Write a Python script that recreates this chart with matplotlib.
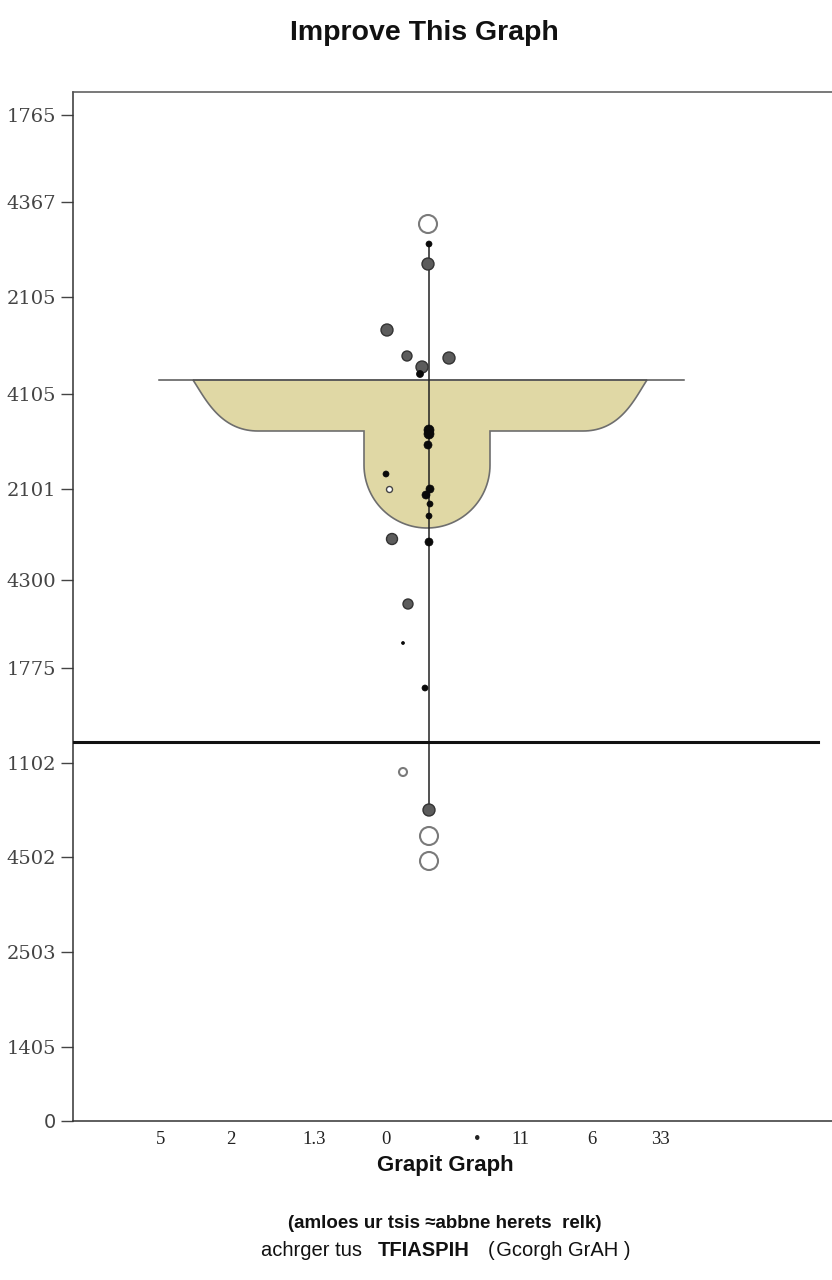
import numpy as np
import matplotlib
matplotlib.use("Agg")
import matplotlib.pyplot as plt
from matplotlib.patches import Polygon

# ---------------- data ----------------
title = "Improve This Graph"
xlabel = "Grapit Graph"
note_line1 = "(amloes ur tsis ≈abbne herets  relk)"
note_line2_a = "achrger tus"
note_line2_b = "TFIASPIH"
note_line2_c = "(\u200aGcorgh GrAH )"

ytick_pos = [1006, 919, 824, 727, 632, 541, 453, 358, 264, 169, 74, 0]
ytick_labels = ["1765", "4367", "2105", "4105", "2101", "4300", "1775",
                "1102", "4502", "2503", "1405", "0"]
xtick_pos = [88, 158, 241, 313, 404, 447, 519, 587]
xtick_labels = ["5", "2", "1.3", "0", "•", "11", "6", "33"]

# hollow circles
hollow_x = [355, 356, 356, 330]
hollow_y = [897, 285, 260, 349]
hollow_r = [9, 9, 9, 4]
# small white dot
white_x = [316]
white_y = [632]
# grey dots
gray_x = [355, 314, 334, 376, 349, 319, 335, 356]
gray_y = [857, 791, 765, 763, 754, 582, 517, 311]
gray_r = [6, 6, 5, 6, 6, 5.5, 5, 6]
# black dots
black_x = [356, 347, 356, 356, 355, 313, 357, 353, 357, 356, 356, 330, 352]
black_y = [877, 747, 691, 687, 676, 647, 632, 626, 617, 605, 579, 478, 433]
black_r = [3, 3.5, 5, 5, 4, 3, 4, 4, 3, 3, 4, 1.5, 3]

# reference lines
whisker_x = 356
whisker_y = (311, 878)
cap_y = 741
cap_x = (86, 611)
base_y = 379
base_x = (0, 745)

# shape outline (tan bowl)
bowl_top_y, bowl_left, bowl_right = 741, 120, 574
bowl_mid_y, bowl_shoulder_l, bowl_shoulder_r = 690, 185, 510
stem_left, stem_right, stem_round_y = 291, 417, 656

# ---------------- figure ----------------
W, H = 832, 1280
fig = plt.figure(figsize=(W / 100, H / 100), dpi=100)
ax = fig.add_axes([73 / W, 1 - 1121 / H, 1 - 73 / W, (1121 - 92) / H])
ax.set_xlim(0, 759)
ax.set_ylim(0, 1029)


def bez(p0, p1, p2, p3, n=40):
    t = np.linspace(0, 1, n)[:, None]
    p0, p1, p2, p3 = map(np.array, (p0, p1, p2, p3))
    return ((1 - t) ** 3) * p0 + 3 * ((1 - t) ** 2) * t * p1 + 3 * (1 - t) * t ** 2 * p2 + t ** 3 * p3


pts = [np.array([[bowl_left, bowl_top_y], [bowl_right, bowl_top_y]])]
pts.append(bez((bowl_right, bowl_top_y), (bowl_right - 12, bowl_top_y - 18),
               (bowl_shoulder_r + 38, bowl_mid_y), (bowl_shoulder_r, bowl_mid_y)))
pts.append(np.array([[stem_right, bowl_mid_y], [stem_right, stem_round_y]]))
rad = (stem_right - stem_left) / 2
cx = (stem_right + stem_left) / 2
t = np.linspace(0, -np.pi, 60)
pts.append(np.column_stack([cx + rad * np.cos(t), stem_round_y + rad * np.sin(t)]))
pts.append(np.array([[stem_left, bowl_mid_y], [bowl_shoulder_l, bowl_mid_y]]))
pts.append(bez((bowl_shoulder_l, bowl_mid_y), (bowl_shoulder_l - 38, bowl_mid_y),
               (bowl_left + 12, bowl_top_y - 18), (bowl_left, bowl_top_y)))
poly = Polygon(np.vstack(pts), closed=True, facecolor="#e0d8a5",
               edgecolor="#6e6e6e", linewidth=1.2, zorder=2)
ax.add_patch(poly)

ax.plot(cap_x, [cap_y, cap_y], color="#555555", lw=1.1, zorder=3)
ax.plot([whisker_x, whisker_x], whisker_y, color="#222222", lw=1.1, zorder=3)
ax.plot(base_x, [base_y, base_y], color="#111111", lw=2.2, zorder=3)


def sz(r):
    return (2 * np.array(r, dtype=float) * 0.72) ** 2


ax.scatter(gray_x, gray_y, s=sz(gray_r), color="#5c5c5c", edgecolor="#333333",
           linewidth=1.0, zorder=5)
ax.scatter(black_x, black_y, s=sz(black_r), color="#0a0a0a", edgecolor="#0a0a0a",
           linewidth=0.5, zorder=6)
ax.scatter(hollow_x, hollow_y, s=sz(hollow_r), facecolor="white", edgecolor="#7a7a7a",
           linewidth=1.5, zorder=5)
ax.scatter(white_x, white_y, s=sz([3]), facecolor="white", edgecolor="#444444",
           linewidth=1.0, zorder=6)

# spines and ticks
ax.spines["right"].set_visible(False)
ax.spines["top"].set_color("#555555")
ax.spines["bottom"].set_color("#333333")
ax.spines["left"].set_color("#333333")
for s in ("top", "bottom", "left"):
    ax.spines[s].set_linewidth(1.1)

ax.set_yticks(ytick_pos)
ax.set_yticklabels(ytick_labels, family="DejaVu Serif", fontsize=14, color="#444444")
ax.tick_params(axis="y", length=9, width=1, color="#444444", pad=3)
ax.set_xticks(xtick_pos)
ax.set_xticklabels(xtick_labels, family="Liberation Serif", fontsize=13.5, color="#222222")
ax.tick_params(axis="x", length=0, pad=7)
ax.get_yticklabels()[-1].set_family("DejaVu Sans")

ax.set_xlabel(xlabel, family="Liberation Sans", fontweight="bold", fontsize=16,
              color="#111111")
ax.xaxis.set_label_coords((445 - 73) / (W - 73), -(1166 - 1121) / (1121 - 92))
ax.xaxis.label.set_va("center")
fig.text(424 / W, 1 - 33 / H, title, ha="center", va="center",
         family="Liberation Sans", fontweight="bold", fontsize=20.5, color="#111111")
fig.text(445 / W, 1 - 1223 / H, note_line1, ha="center", va="center",
         family="Liberation Sans", fontweight="bold", fontsize=13.5, color="#111111")
fig.text(261 / W, 1 - 1251 / H, note_line2_a, ha="left", va="center",
         family="Liberation Sans", fontsize=14.5, color="#111111")
fig.text(378 / W, 1 - 1251 / H, note_line2_b, ha="left", va="center",
         family="Liberation Sans", fontweight="bold", fontsize=14.5, color="#111111")
fig.text(488 / W, 1 - 1251 / H, note_line2_c, ha="left", va="center",
         family="Liberation Sans", fontsize=14.5, color="#111111")

fig.savefig("out.png", dpi=100)
